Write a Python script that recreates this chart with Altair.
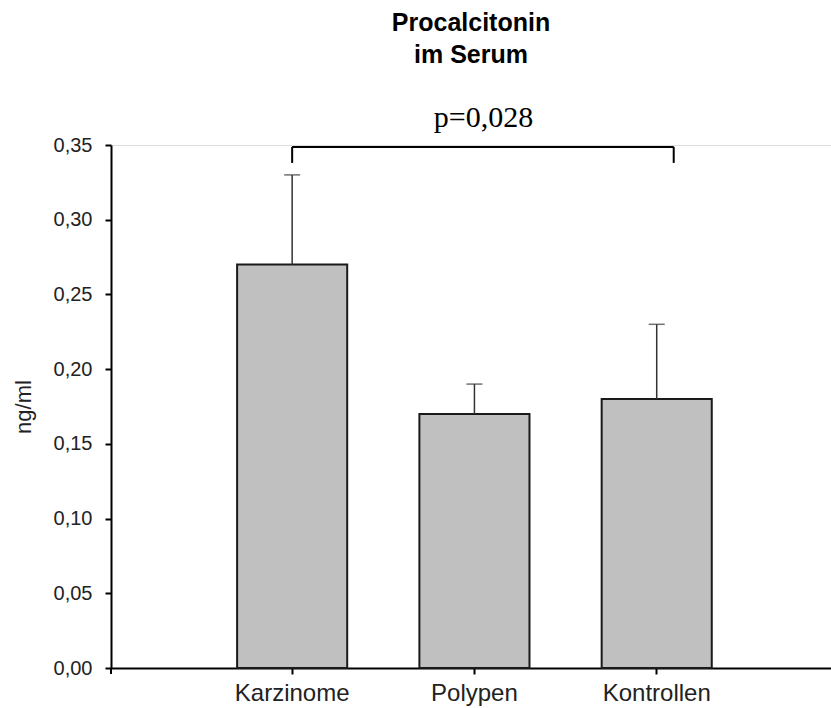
import altair as alt
import pandas as pd

# Serum procalcitonin per group (mean and upper error bound, ng/ml)
categories = ["Karzinome", "Polypen", "Kontrollen"]
means = [0.27, 0.17, 0.18]
upper = [0.33, 0.19, 0.23]
y_ticks = [0.0, 0.05, 0.10, 0.15, 0.20, 0.25, 0.30, 0.35]

# significance bracket between carcinoma and control group
p_label = "p=0,028"
bracket_top = 0.3487
bracket_foot = 0.338
p_label_y = 0.362

bars_df = pd.DataFrame({"group": categories, "mean": means, "upper": upper})
bracket_df = pd.DataFrame({
    "left": [categories[0]],
    "right": [categories[2]],
    "mid": [categories[1]],
    "top": [bracket_top],
    "foot": [bracket_foot],
    "ty": [p_label_y],
    "label": [p_label],
})

SANS = "Liberation Sans"

x_scale = alt.Scale(domain=categories, paddingInner=0.396, paddingOuter=0.673, align=0.514)
y_scale = alt.Scale(domain=[0, 0.35], nice=False, zero=True)

x_axis = alt.Axis(
    title=None, labelAngle=0, labelFont=SANS, labelFontSize=24, labelColor="#222",
    labelPadding=7, tickSize=6, tickColor="black", tickWidth=2,
    domainColor="black", domainWidth=2, grid=False,
)
y_axis = alt.Axis(
    title="ng/ml", values=y_ticks,
    labelExpr="replace(format(datum.value, '.2f'), '.', ',')",
    labelFont=SANS, labelFontSize=20, labelColor="#222", labelPadding=13,
    tickSize=6, tickColor="black", tickWidth=2,
    domainColor="black", domainWidth=2, grid=False,
    titleFont=SANS, titleFontSize=22, titleFontWeight="normal", titleColor="#222",
    titlePadding=18,
)


def xq(field):
    return alt.X(f"{field}:N", scale=x_scale, sort=categories, axis=x_axis)


def yq(field):
    return alt.Y(f"{field}:Q", scale=y_scale, axis=y_axis)


bars = alt.Chart(bars_df).mark_bar(
    fill="#c0c0c0", stroke="#1a1a1a", strokeWidth=2
).encode(x=xq("group"), y=yq("mean"))

err = alt.Chart(bars_df).mark_rule(color="#333", strokeWidth=1.5).encode(
    x=xq("group"), y=yq("mean"), y2="upper:Q"
)
caps = alt.Chart(bars_df).mark_tick(
    color="#333", thickness=1.5, size=16, orient="horizontal"
).encode(x=xq("group"), y=yq("upper"))

bracket_h = alt.Chart(bracket_df).mark_rule(
    color="black", strokeWidth=2, x2Offset=17
).encode(x=xq("left"), x2="right:N", y=yq("top"))
bracket_l = alt.Chart(bracket_df).mark_rule(color="black", strokeWidth=2).encode(
    x=xq("left"), y=yq("foot"), y2="top:Q"
)
bracket_r = alt.Chart(bracket_df).mark_rule(
    color="black", strokeWidth=2, xOffset=17
).encode(x=xq("right"), y=yq("foot"), y2="top:Q")
p_text = alt.Chart(bracket_df).mark_text(
    font="Liberation Serif", fontSize=30, color="black", baseline="alphabetic", dx=9
).encode(x=xq("mid"), y=yq("ty"), text="label:N")

# small tick where the x axis meets the y axis
corner = alt.Chart(bars_df).mark_rule(color="black", strokeWidth=2).encode(
    x=alt.value(0), y=alt.value(523), y2=alt.value(529)
)

chart = alt.layer(
    bars, err, caps, bracket_h, bracket_l, bracket_r, p_text, corner
).properties(
    width=720,
    height=523,
    padding={"left": 111, "top": 145, "right": 0, "bottom": 40},
    autosize=alt.AutoSizeParams(type="none"),
    title=alt.Title(
        ["Procalcitonin", "im Serum"], font=SANS, fontSize=25, fontWeight="bold",
        color="black", anchor="middle", lineHeight=32, offset=35,
    ),
).configure_view(stroke=None).configure(background="white")

chart.save("out.html", embed_options={"renderer": "svg", "actions": False})
